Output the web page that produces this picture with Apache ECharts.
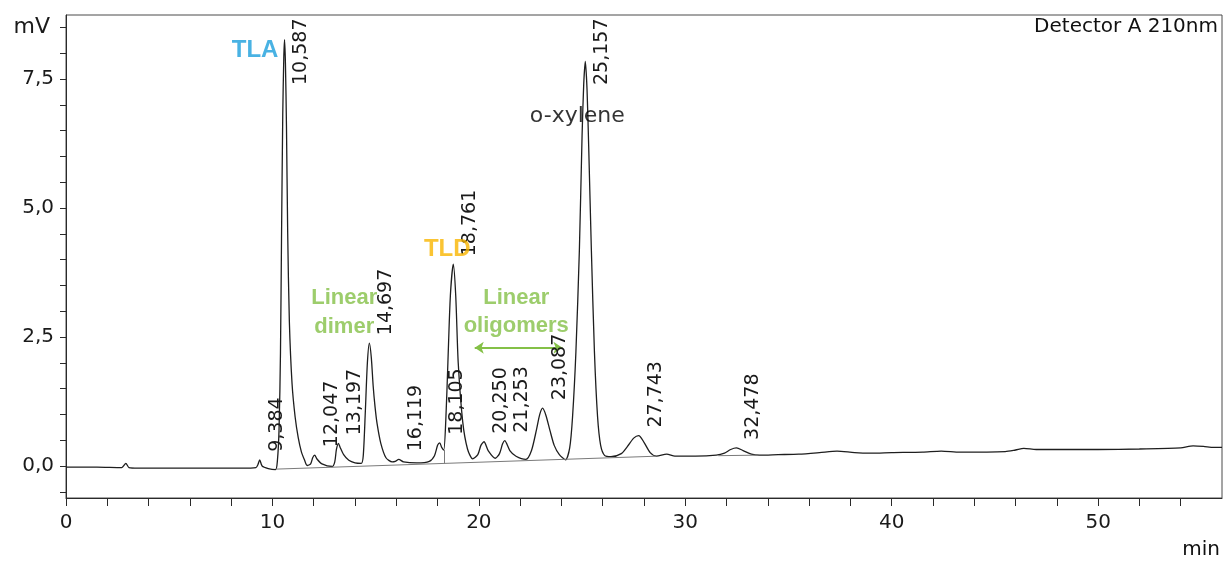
<!DOCTYPE html>
<html>
<head>
<meta charset="utf-8">
<script src="https://cdn.jsdelivr.net/npm/echarts@6/dist/echarts.min.js"></script>
<style>
  html, body { margin: 0; padding: 0; background: #ffffff; }
  #chart { width: 1223px; height: 561px; }
</style>
</head>
<body>
<div id="chart"></div>
<script>
// Integrated peaks: retention time (min) and apex height (mV)
const peakTimes   = [9.384, 10.587, 12.047, 13.197, 14.697, 16.119, 18.105, 18.761, 20.250, 21.253, 23.087, 25.157, 27.743, 32.478];
const peakHeights = [0.12,  8.26,   0.21,   0.44,   2.38,   0.13,   0.45,   3.91,   0.47,   0.49,   1.12,   7.84,   0.59,   0.35];

// Detector signal between the apexes: [time (min), signal (mV)]
const traceShape = [
  [0, -0.02], [1.5, -0.02], [2.7, -0.03], [2.9, 0.05], [3.05, -0.03], [3.5, -0.04],
  [6.0, -0.04], [8.5, -0.04], [9.2, -0.03], [9.3, 0.03], [9.5, 0.0], [9.8, -0.05],
  [10.15, -0.07], [10.24, 0.1], [10.32, 0.7], [10.39, 2.2], [10.44, 4.4], [10.5, 6.8], [10.55, 7.9],
  [10.63, 7.8], [10.68, 6.6], [10.74, 4.5], [10.82, 2.8], [10.95, 1.6], [11.1, 0.95], [11.25, 0.55],
  [11.4, 0.28], [11.55, 0.12], [11.68, 0.01], [11.85, 0.04], [11.95, 0.16],
  [12.15, 0.14], [12.4, 0.04], [12.9, -0.01], [13.02, 0.08], [13.1, 0.32],
  [13.28, 0.36], [13.45, 0.22], [13.7, 0.11], [14.0, 0.06], [14.3, 0.05], [14.4, 0.2], [14.5, 1.05], [14.6, 2.0],
  [14.79, 2.1], [14.88, 1.55], [14.97, 1.15], [15.07, 0.82], [15.25, 0.44], [15.5, 0.16], [15.8, 0.08],
  [15.95, 0.09], [16.35, 0.08], [17.0, 0.06], [17.6, 0.09], [17.85, 0.2], [18.0, 0.4],
  [18.2, 0.36], [18.3, 0.31], [18.4, 0.9], [18.5, 2.0], [18.62, 3.3],
  [18.88, 3.3], [19.0, 2.0], [19.22, 0.85], [19.45, 0.33], [19.7, 0.14], [19.95, 0.22], [20.1, 0.4],
  [20.45, 0.3], [20.8, 0.15], [21.0, 0.24], [21.15, 0.43],
  [21.5, 0.3], [21.8, 0.19], [22.28, 0.13], [22.55, 0.3], [22.8, 0.72], [22.95, 1.0],
  [23.25, 0.98], [23.45, 0.68], [23.65, 0.4], [23.9, 0.22], [24.2, 0.12],
  [24.4, 0.35], [24.54, 0.96], [24.7, 2.2], [24.87, 4.19], [25.0, 6.4], [25.08, 7.4],
  [25.24, 7.3], [25.32, 6.2], [25.45, 4.19], [25.6, 2.2], [25.75, 0.96], [25.9, 0.4], [26.1, 0.2], [26.4, 0.18],
  [26.9, 0.24], [27.2, 0.38], [27.5, 0.54], [28.0, 0.46], [28.3, 0.26], [28.6, 0.19],
  [29.1, 0.23], [29.5, 0.19], [30.5, 0.19], [31.5, 0.21], [31.9, 0.25], [32.2, 0.32],
  [32.8, 0.3], [33.2, 0.23], [33.6, 0.21], [34.5, 0.22], [35.5, 0.23], [36.5, 0.26], [37.35, 0.29],
  [38.2, 0.26], [39.0, 0.25], [40.0, 0.26], [41.5, 0.27], [42.4, 0.29], [43.3, 0.27], [45.5, 0.28],
  [46.0, 0.31], [46.4, 0.34], [47.0, 0.32], [48.5, 0.32], [50.0, 0.32], [52.0, 0.33], [54.0, 0.35],
  [54.6, 0.39], [55.1, 0.38], [55.6, 0.36], [56.0, 0.36]
];

// Integration baselines drawn under the peaks: [[start], [end]]
const integrationLines = [
  [[10.2, -0.06], [28.6, 0.19]],
  [[31.6, 0.20], [33.5, 0.21]],
  [[18.32, 0.05], [18.32, 0.31]]
];

// Axis ticks and labels
const yTickValues  = [-0.5, 0, 0.5, 1, 1.5, 2, 2.5, 3, 3.5, 4, 4.5, 5, 5.5, 6, 6.5, 7, 7.5, 8, 8.5];
const yLabelValues = [0, 2.5, 5, 7.5, 8.5];
const yUnitValue   = 8.5;
const xLabelStep   = 10;

const FONT = '"DejaVu Sans", "Liberation Sans", Arial, sans-serif';
const BOLD_FONT = '"Liberation Sans", Arial, sans-serif';
const GREEN = '#84c047';

const decimalComma = (v, d) => v.toFixed(d).replace('.', ',');

// full trace = shape points + peak apexes, ordered by time
const trace = traceShape
  .concat(peakTimes.map((t, i) => [t, peakHeights[i]]))
  .sort((a, b) => a[0] - b[0]);

const chart = echarts.init(document.getElementById('chart'), null, { renderer: 'canvas' });

chart.setOption({
  animation: false,
  backgroundColor: '#ffffff',
  grid: {
    left: 66, right: 1, top: 15, bottom: 63,
    show: true, borderColor: '#4a4a4a', borderWidth: 1,
    containLabel: false, outerBoundsMode: 'none'
  },
  xAxis: {
    type: 'value', min: 0, max: 56, interval: 2,
    splitLine: { show: false },
    axisLine: { show: true, onZero: false, lineStyle: { color: '#2a2a2a', width: 1 } },
    axisTick: { show: true, length: 8, inside: false, lineStyle: { color: '#2a2a2a' } },
    axisLabel: {
      show: true, margin: 15, fontSize: 20, fontFamily: FONT, color: '#1a1a1a',
      showMaxLabel: false,
      formatter: v => (Math.abs(v % xLabelStep) < 1e-9 ? String(v) : '')
    }
  },
  yAxis: {
    type: 'value', min: -0.62, max: 8.74,
    splitLine: { show: false },
    axisLine: { show: true, onZero: false, lineStyle: { color: '#2a2a2a', width: 1 } },
    axisTick: { show: true, length: 6, inside: false, customValues: yTickValues, lineStyle: { color: '#2a2a2a' } },
    axisLabel: {
      show: true, margin: 12, fontSize: 20, fontFamily: FONT, color: '#1a1a1a',
      customValues: yLabelValues,
      formatter: v => (Math.abs(v - yUnitValue) < 1e-9 ? '{u|mV}' : decimalComma(v, 1)),
      rich: { u: { fontSize: 22, fontFamily: FONT, color: '#1a1a1a', padding: [0, 4, 0, 0] } }
    }
  },
  series: [
    {
      name: 'Detector A',
      type: 'line',
      data: trace,
      showSymbol: false,
      smooth: 0.25,
      lineStyle: { color: '#1e1e1e', width: 1.3 },
      z: 3
    },
    {
      name: 'integration',
      type: 'line',
      data: [],
      silent: true,
      markLine: {
        silent: true, symbol: ['none', 'none'], label: { show: false },
        lineStyle: { color: '#7a7a7a', width: 1, type: 'solid' },
        animation: false,
        data: integrationLines.map(([a, b]) => [{ coord: a }, { coord: b }])
      },
      z: 2
    },
    {
      name: 'peak labels',
      type: 'custom',
      data: peakTimes.map((t, i) => [t, peakHeights[i]]),
      clip: false,
      silent: true,
      z: 5,
      renderItem: (params, api) => {
        const t = api.value(0);
        const p = api.coord([t, api.value(1)]);
        const cs = params.coordSys;
        const textLen = 63;
        const bottom = Math.max(p[1] - 8, cs.y + 7 + textLen);
        return {
          type: 'text',
          x: p[0] + 17,
          y: bottom,
          rotation: Math.PI / 2,
          style: {
            text: decimalComma(t, 3),
            fontSize: 19, fontFamily: FONT, fill: '#1a1a1a',
            align: 'left', verticalAlign: 'middle'
          }
        };
      }
    },
    {
      name: 'annotations',
      type: 'scatter',
      symbolSize: 0,
      silent: true,
      z: 6,
      label: { show: true, position: 'inside', formatter: p => p.data.text },
      data: [
        { value: [9.16, 8.06], text: 'TLA',
          label: { color: '#1b9fdc', fontSize: 24, fontWeight: 'bold', fontFamily: BOLD_FONT } },
        { value: [18.47, 4.19], text: 'TLD',
          label: { color: '#f9b500', fontSize: 24, fontWeight: 'bold', fontFamily: BOLD_FONT } },
        { value: [24.77, 6.78], text: 'o-xylene',
          label: { color: '#000', fontSize: 22, fontFamily: FONT } },
        { value: [13.48, 2.98], text: 'Linear\ndimer',
          label: { color: GREEN, fontSize: 22, lineHeight: 29, fontWeight: 'bold', fontFamily: BOLD_FONT, align: 'center' } },
        { value: [21.81, 2.98], text: 'Linear\noligomers',
          label: { color: GREEN, fontSize: 22, lineHeight: 28, fontWeight: 'bold', fontFamily: BOLD_FONT, align: 'center' } }
      ],
      markLine: {
        silent: true,
        symbol: ['arrow', 'arrow'],
        symbolSize: [9, 9],
        label: { show: false },
        lineStyle: { color: GREEN, width: 2, type: 'solid' },
        data: [[{ coord: [19.8, 2.29] }, { coord: [24.05, 2.29] }]]
      }
    }
  ],
  graphic: [
    {
      type: 'text', right: 5, top: 17,
      style: { text: 'Detector A 210nm', fontSize: 20, fontFamily: FONT, fill: '#111' }
    },
    {
      type: 'text', right: 3, top: 540,
      style: { text: 'min', fontSize: 20, fontFamily: FONT, fill: '#111' }
    }
  ]
});
</script>
</body>
</html>
